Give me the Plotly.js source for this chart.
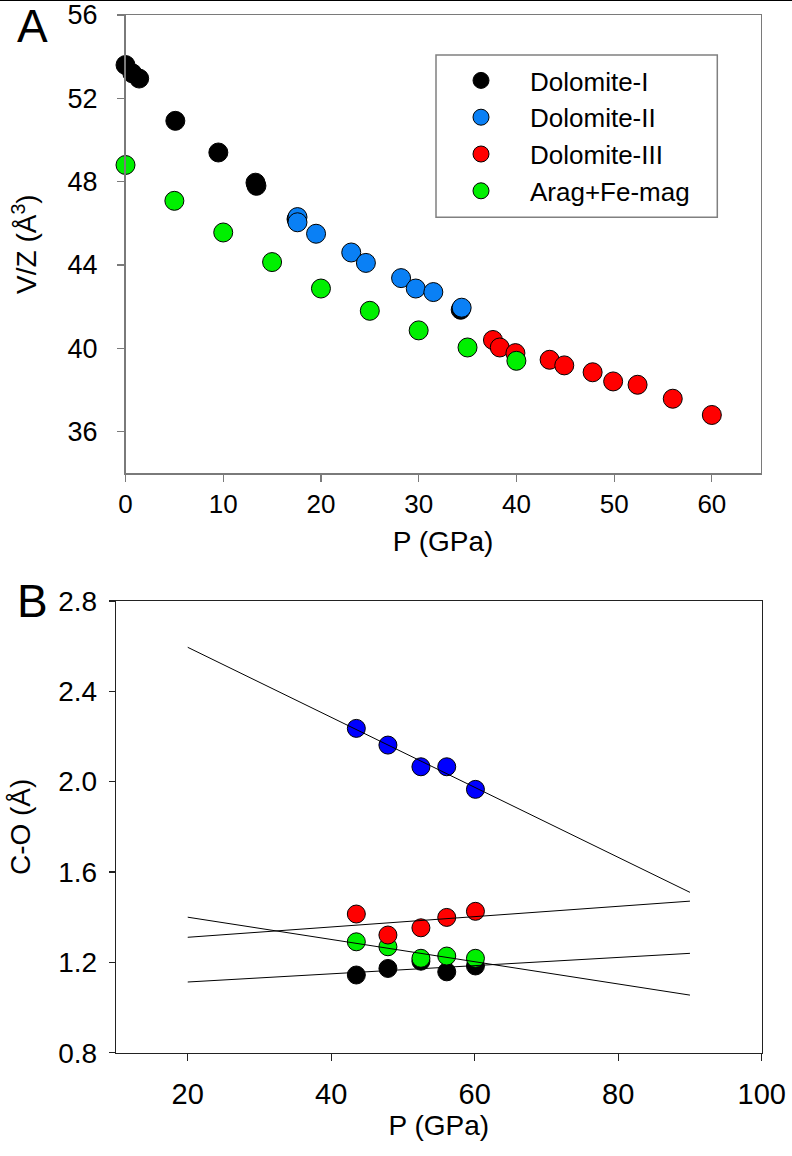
<!DOCTYPE html>
<html>
<head>
<meta charset="utf-8">
<script src="https://cdn.plot.ly/plotly-3.0.1.min.js"></script>
<style>
html,body{margin:0;padding:0;background:#fff;}
#chart{width:792px;height:1156px;}
</style>
</head>
<body>
<div id="chart"></div>
<script>
// ---------- Panel A: V/Z vs P ----------
const seriesNames = ["Dolomite-I", "Dolomite-II", "Dolomite-III", "Arag+Fe-mag"];

const dolI_P  = [0, 0.7, 1.4, 5.1, 9.5, 13.3, 13.4, 17.5, 34.3];
const dolI_V  = [53.6, 53.2, 52.95, 50.92, 49.4, 47.95, 47.8, 46.2, 41.85];

const dolII_P = [17.6, 17.6, 19.5, 23.1, 24.6, 28.2, 29.7, 31.5, 34.4];
const dolII_V = [46.3, 46.05, 45.5, 44.6, 44.1, 43.37, 42.87, 42.7, 41.95];

const dolIII_P = [37.6, 38.3, 39.9, 43.4, 44.9, 47.8, 49.9, 52.4, 56.0, 60.0];
const dolIII_V = [40.4, 40.04, 39.77, 39.45, 39.18, 38.85, 38.41, 38.25, 37.58, 36.8];

const arag_P = [0, 5, 10, 15, 20, 25, 30, 35, 40];
const arag_V = [48.8, 47.08, 45.56, 44.14, 42.87, 41.8, 40.86, 40.04, 39.4];

// ---------- Panel B: C-O vs P ----------
const bP = [43.5, 47.9, 52.5, 56.1, 60.1];
const bBlue  = [2.236, 2.162, 2.066, 2.066, 1.966];
const bRed   = [1.414, 1.321, 1.353, 1.399, 1.426];
const bGreen = [1.291, 1.269, 1.218, 1.228, 1.218];
const bBlack = [1.144, 1.173, 1.205, 1.158, 1.184];

// fitted lines (end points)
const fitP = [20, 90];
const fitBlue  = [2.595, 1.51];
const fitRed   = [1.311, 1.471];
const fitGreen = [1.40, 1.055];
const fitBlack = [1.113, 1.24];

// tick values
const aXTicks = [0, 10, 20, 30, 40, 50, 60];
const aYTicks = [36, 40, 44, 48, 52, 56];
const bXTicks = [20, 40, 60, 80, 100];
const bYTicks = [0.8, 1.2, 1.6, 2.0, 2.4, 2.8];

const FONT = "Liberation Sans, Arial, Helvetica, sans-serif";
const W = 792, H = 1156;
const px = v => v / W;
const py = v => 1 - v / H;

const colA = {I: "#000000", II: "#0a80f5", III: "#ff0000", arag: "#00f000"};
const colB = {blue: "#0000ff", red: "#ff0000", green: "#00f000", black: "#000000"};

function pts(x, y, name, color, xa, ya, size, showlegend) {
  return {
    type: "scatter", mode: "markers", x: x, y: y, name: name,
    xaxis: xa, yaxis: ya, showlegend: showlegend, cliponaxis: false,
    marker: {color: color, size: size, line: {color: "#000", width: 1}}
  };
}
function fit(y, name) {
  return {
    type: "scatter", mode: "lines", x: fitP, y: y, name: name,
    xaxis: "x2", yaxis: "y2", showlegend: false,
    line: {color: "#000", width: 1}
  };
}

const data = [
  pts(dolI_P, dolI_V, seriesNames[0], colA.I, "x", "y", 19, true),
  pts(dolII_P, dolII_V, seriesNames[1], colA.II, "x", "y", 19, true),
  pts(dolIII_P, dolIII_V, seriesNames[2], colA.III, "x", "y", 19, true),
  pts(arag_P, arag_V, seriesNames[3], colA.arag, "x", "y", 19, true),

  pts(bP, bBlack, "C-O black", colB.black, "x2", "y2", 18, false),
  pts(bP, bGreen, "C-O green", colB.green, "x2", "y2", 18, false),
  pts(bP, bRed, "C-O red", colB.red, "x2", "y2", 18, false),
  pts(bP, bBlue, "C-O blue", colB.blue, "x2", "y2", 18, false),

  fit(fitBlue, "fit blue"),
  fit(fitRed, "fit red"),
  fit(fitGreen, "fit green"),
  fit(fitBlack, "fit black")
];

const gA = "#7a7a7a";
const layout = {
  width: W, height: H,
  margin: {l: 0, r: 0, t: 0, b: 0, pad: 0},
  paper_bgcolor: "#fff", plot_bgcolor: "#fff",
  font: {family: FONT, color: "#000"},
  showlegend: true,
  legend: {
    x: px(432), y: py(57), xanchor: "left", yanchor: "top",
    bgcolor: "rgba(0,0,0,0)", borderwidth: 0,
    itemwidth: 88,
    font: {family: FONT, size: 26, color: "#000"},
    traceorder: "normal"
  },
  xaxis: {
    domain: [px(125.5), px(760.7)], anchor: "y",
    range: [0, 65], tickvals: aXTicks, ticktext: aXTicks.map(String),
    showgrid: false, zeroline: false,
    showline: true, linecolor: gA, linewidth: 1.5, mirror: true,
    ticks: "outside", ticklen: 7, tickwidth: 1.2, tickcolor: gA,
    tickfont: {family: FONT, size: 26, color: "#000"},
    ticklabelstandoff: 0,
    title: {text: "P (GPa)", font: {family: FONT, size: 28, color: "#000"}, standoff: 13}
  },
  yaxis: {
    domain: [py(473.3), py(15)], anchor: "x",
    range: [34, 56], tickvals: aYTicks, ticktext: aYTicks.map(String),
    showgrid: false, zeroline: false,
    showline: true, linecolor: gA, linewidth: 1.5, mirror: true,
    ticks: "outside", ticklen: 7, tickwidth: 1.2, tickcolor: gA,
    tickfont: {family: FONT, size: 27, color: "#000"},
    ticklabelstandoff: 14,
    title: {text: "V/Z (Å<sup>3</sup>)", font: {family: FONT, size: 28, color: "#000"}, standoff: 22}
  },
  xaxis2: {
    domain: [px(116), px(761.7)], anchor: "y2",
    range: [10, 100], tickvals: bXTicks, ticktext: bXTicks.map(String),
    showgrid: false, zeroline: false,
    showline: true, linecolor: "#222", linewidth: 1.3, mirror: true,
    ticks: "outside", ticklen: 7, tickwidth: 1.2, tickcolor: "#222",
    tickfont: {family: FONT, size: 29, color: "#000"},
    ticklabelstandoff: 8,
    title: {text: "P (GPa)", font: {family: FONT, size: 28, color: "#000"}, standoff: 3}
  },
  yaxis2: {
    domain: [py(1052.7), py(601)], anchor: "x2",
    range: [0.8, 2.8], tickvals: bYTicks, ticktext: bYTicks.map(v => v.toFixed(1)),
    showgrid: false, zeroline: false,
    showline: true, linecolor: "#222", linewidth: 1.3, mirror: true,
    ticks: "outside", ticklen: 6, tickwidth: 1.2, tickcolor: "#222",
    tickfont: {family: FONT, size: 28, color: "#000"},
    ticklabelstandoff: 6,
    title: {text: "C-O (Å)", font: {family: FONT, size: 28, color: "#000"}, standoff: 19}
  },
  shapes: [
    {type: "rect", xref: "paper", yref: "paper",
     x0: px(436), x1: px(717.3), y0: py(217.3), y1: py(55),
     line: {color: "#808080", width: 1.5}, fillcolor: "rgba(0,0,0,0)"},
    {type: "line", xref: "paper", yref: "paper",
     x0: 0, x1: 1, y0: 1, y1: 1, line: {color: "#000", width: 2}}
  ],
  annotations: [
    {text: "A", xref: "paper", yref: "paper", x: px(32), y: py(26),
     xanchor: "center", yanchor: "middle", showarrow: false,
     font: {family: FONT, size: 46, color: "#000"}},
    {text: "B", xref: "paper", yref: "paper", x: px(32), y: py(601),
     xanchor: "center", yanchor: "middle", showarrow: false,
     font: {family: FONT, size: 46, color: "#000"}}
  ]
};

Plotly.newPlot("chart", data, layout, {displayModeBar: false, staticPlot: true});
</script>
</body>
</html>
